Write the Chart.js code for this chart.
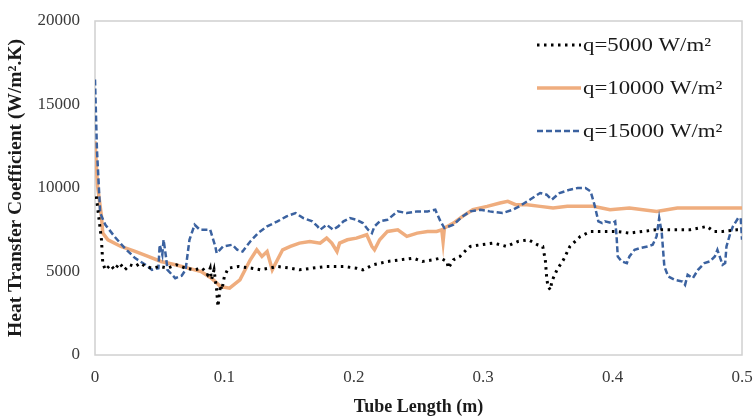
<!DOCTYPE html>
<html>
<head>
<meta charset="utf-8">
<script src="https://cdn.jsdelivr.net/npm/chart.js@4.4.0/dist/chart.umd.min.js"></script>
<style>
  html, body { margin: 0; padding: 0; background: #ffffff; }
  #wrap { width: 755px; height: 420px; }
</style>
</head>
<body>
<div id="wrap"><canvas id="c" width="755" height="420"></canvas></div>
<script>
// Local heat transfer coefficient along the tube for three heat fluxes
const seriesLabels = ['q=5000 W/m\u00B2', 'q=10000 W/m\u00B2', 'q=15000 W/m\u00B2'];

const q5000X = [0.001, 0.005, 0.006, 0.008, 0.012, 0.015, 0.019, 0.023, 0.027, 0.031, 0.035, 0.039, 0.044, 0.050, 0.056, 0.063, 0.070, 0.077, 0.083, 0.087, 0.089, 0.090, 0.092, 0.094, 0.095, 0.097, 0.098, 0.100, 0.103, 0.111, 0.121, 0.128, 0.141, 0.151, 0.158, 0.168, 0.179, 0.192, 0.202, 0.207, 0.215, 0.226, 0.236, 0.246, 0.253, 0.261, 0.267, 0.272, 0.273, 0.277, 0.282, 0.287, 0.290, 0.298, 0.308, 0.318, 0.327, 0.335, 0.342, 0.346, 0.348, 0.349, 0.350, 0.352, 0.353, 0.357, 0.362, 0.367, 0.375, 0.383, 0.393, 0.403, 0.413, 0.423, 0.434, 0.447, 0.460, 0.473, 0.478, 0.485, 0.496, 0.500];
const q5000Y = [9500, 6900, 5500, 5100, 5400, 5100, 5500, 5100, 5400, 5300, 5500, 5300, 5200, 5300, 5200, 5400, 5200, 5100, 5200, 4800, 5200, 4500, 5100, 3900, 2900, 4200, 3900, 4700, 5200, 5300, 5200, 5100, 5300, 5200, 5100, 5200, 5300, 5300, 5200, 5100, 5400, 5600, 5700, 5800, 5600, 5700, 5800, 5600, 5200, 5700, 5900, 6300, 6500, 6600, 6700, 6500, 6800, 6900, 6600, 6500, 5700, 4700, 4100, 3900, 4400, 5100, 5700, 6500, 7100, 7400, 7400, 7400, 7300, 7400, 7500, 7500, 7500, 7700, 7400, 7400, 7500, 7500];

const q10000X = [0, 0.002, 0.005, 0.006, 0.010, 0.020, 0.031, 0.041, 0.051, 0.062, 0.072, 0.082, 0.090, 0.097, 0.104, 0.112, 0.120, 0.125, 0.129, 0.133, 0.137, 0.141, 0.145, 0.151, 0.158, 0.166, 0.174, 0.179, 0.183, 0.187, 0.189, 0.195, 0.202, 0.210, 0.214, 0.216, 0.220, 0.226, 0.234, 0.241, 0.249, 0.257, 0.264, 0.268, 0.269, 0.270, 0.277, 0.284, 0.292, 0.303, 0.313, 0.319, 0.325, 0.334, 0.344, 0.354, 0.365, 0.375, 0.385, 0.398, 0.413, 0.434, 0.450, 0.465, 0.485, 0.500];
const q10000Y = [12800, 10100, 8300, 7300, 6900, 6500, 6200, 5900, 5600, 5400, 5200, 5000, 4600, 4100, 4000, 4500, 5700, 6300, 5900, 6200, 5100, 5700, 6300, 6500, 6700, 6800, 6700, 7000, 6700, 6200, 6700, 6900, 7000, 7200, 6500, 6300, 6900, 7400, 7500, 7100, 7300, 7400, 7400, 7500, 6800, 7600, 7900, 8300, 8700, 8900, 9100, 9200, 9000, 9000, 8900, 8800, 8900, 8900, 8900, 8700, 8800, 8600, 8800, 8800, 8800, 8800];

const q15000X = [0, 0.0015, 0.004, 0.008, 0.015, 0.023, 0.031, 0.039, 0.044, 0.049, 0.050, 0.052, 0.053, 0.055, 0.056, 0.062, 0.067, 0.070, 0.073, 0.077, 0.081, 0.089, 0.093, 0.094, 0.099, 0.106, 0.110, 0.114, 0.120, 0.126, 0.133, 0.141, 0.148, 0.155, 0.161, 0.168, 0.172, 0.174, 0.179, 0.184, 0.188, 0.192, 0.197, 0.202, 0.207, 0.211, 0.214, 0.216, 0.220, 0.226, 0.234, 0.241, 0.249, 0.257, 0.263, 0.267, 0.270, 0.277, 0.284, 0.290, 0.298, 0.305, 0.315, 0.323, 0.328, 0.336, 0.344, 0.349, 0.353, 0.359, 0.367, 0.373, 0.379, 0.383, 0.386, 0.389, 0.392, 0.394, 0.400, 0.402, 0.403, 0.404, 0.407, 0.411, 0.413, 0.417, 0.421, 0.427, 0.431, 0.434, 0.436, 0.438, 0.440, 0.443, 0.448, 0.454, 0.456, 0.458, 0.462, 0.466, 0.471, 0.475, 0.479, 0.481, 0.485, 0.487, 0.488, 0.491, 0.493, 0.497, 0.499, 0.500];
const q15000Y = [16500, 12300, 8500, 7800, 7100, 6400, 5800, 5400, 5100, 5200, 6600, 6000, 6900, 5800, 5100, 4600, 4750, 5100, 6900, 7800, 7500, 7500, 6500, 6100, 6500, 6600, 6300, 6200, 6800, 7300, 7700, 8000, 8300, 8500, 8200, 8000, 7700, 7500, 7800, 7500, 7700, 8000, 8200, 8100, 7900, 7500, 7300, 7700, 8000, 8100, 8600, 8500, 8600, 8600, 8700, 8000, 7600, 7800, 8300, 8600, 8700, 8600, 8500, 8700, 8900, 9300, 9700, 9600, 9300, 9700, 9900, 10000, 10000, 9800, 9000, 8000, 7900, 8000, 7900, 8000, 7200, 5900, 5600, 5500, 5900, 6300, 6400, 6500, 6600, 7100, 8200, 7300, 5300, 4700, 4500, 4400, 4200, 4800, 4600, 5100, 5500, 5600, 5900, 6300, 5400, 5500, 6500, 7300, 7700, 8200, 8200, 6900];

const xTickLabels = ['0', '0.1', '0.2', '0.3', '0.4', '0.5'];
const yTickLabels = ['0', '5000', '10000', '15000', '20000'];

const toPoints = (xs, ys) => xs.map((x, i) => ({ x: x, y: ys[i] }));

const serif = "'Liberation Serif', 'Times New Roman', serif";

// Light grey frame around the plotting area
const frame = {
  id: 'frame',
  beforeDatasetsDraw(chart) {
    const a = chart.chartArea, ctx = chart.ctx;
    ctx.save();
    ctx.strokeStyle = '#d0d0d0';
    ctx.lineWidth = 1.5;
    ctx.strokeRect(a.left, a.top, a.right - a.left, a.bottom - a.top);
    ctx.restore();
  }
};

// Legend stacked in the upper right of the plot (text slightly widened)
const insetLegend = {
  id: 'insetLegend',
  afterDraw(chart) {
    const ctx = chart.ctx;
    const x0 = 537, x1 = 581, yStart = 45, gap = 43, widen = 1.2;
    ctx.save();
    chart.data.datasets.forEach((ds, i) => {
      const y = yStart + i * gap;
      ctx.beginPath();
      ctx.strokeStyle = ds.borderColor;
      ctx.lineWidth = ds.borderWidth;
      ctx.setLineDash(ds.borderDash || []);
      ctx.moveTo(x0, y);
      ctx.lineTo(x1, y);
      ctx.stroke();
      ctx.setLineDash([]);
      ctx.save();
      ctx.translate(x1 + 2, y + 1);
      ctx.scale(widen, 1);
      ctx.fillStyle = '#1a1a1a';
      ctx.font = '19px ' + serif;
      ctx.textAlign = 'left';
      ctx.textBaseline = 'middle';
      ctx.fillText(ds.label, 0, 0);
      ctx.restore();
    });
    ctx.restore();
  }
};

new Chart(document.getElementById('c'), {
  type: 'line',
  data: {
    datasets: [
      {
        label: seriesLabels[0],
        data: toPoints(q5000X, q5000Y),
        borderColor: '#000000',
        borderWidth: 3,
        borderDash: [2.5, 4.5],
        order: 1
      },
      {
        label: seriesLabels[1],
        data: toPoints(q10000X, q10000Y),
        borderColor: '#efad7e',
        borderWidth: 3.5,
        order: 3
      },
      {
        label: seriesLabels[2],
        data: toPoints(q15000X, q15000Y),
        borderColor: '#3b62a0',
        borderWidth: 2.5,
        borderDash: [6, 3],
        order: 2
      }
    ]
  },
  options: {
    responsive: false,
    animation: false,
    elements: {
      point: { radius: 0, hoverRadius: 0 },
      line: { tension: 0, fill: false }
    },
    layout: { padding: { top: 21, right: 13, left: 0, bottom: 0 } },
    plugins: {
      legend: { display: false },
      tooltip: { enabled: false }
    },
    scales: {
      x: {
        type: 'linear',
        min: 0,
        max: 0.5,
        grid: { display: false, drawTicks: false },
        border: { display: false },
        ticks: {
          stepSize: 0.1,
          padding: 12,
          color: '#3a3a3a',
          font: { family: serif, size: 17 },
          maxRotation: 0,
          callback: (v, i) => xTickLabels[i]
        },
        title: {
          display: true,
          text: 'Tube Length (m)',
          color: '#1a1a1a',
          font: { family: serif, size: 18, weight: 'bold' },
          padding: { top: 0, bottom: 2 }
        },
        afterFit: (s) => { s.height = 65; s.paddingLeft = 0; s.paddingRight = 0; }
      },
      y: {
        min: 0,
        max: 20000,
        grid: { display: false, drawTicks: false },
        border: { display: false },
        ticks: {
          stepSize: 5000,
          padding: 15,
          color: '#3a3a3a',
          font: { family: serif, size: 17 },
          callback: (v, i) => yTickLabels[i]
        },
        title: {
          display: true,
          text: 'Heat Transfer Coefficient (W/m\u00B2.K)',
          color: '#1a1a1a',
          font: { family: serif, size: 19.5, weight: 'bold' },
          padding: { top: 4, bottom: 0 }
        },
        afterFit: (s) => { s.width = 95; s.paddingTop = 0; s.paddingBottom = 0; }
      }
    }
  },
  plugins: [frame, insetLegend]
});
</script>
</body>
</html>
